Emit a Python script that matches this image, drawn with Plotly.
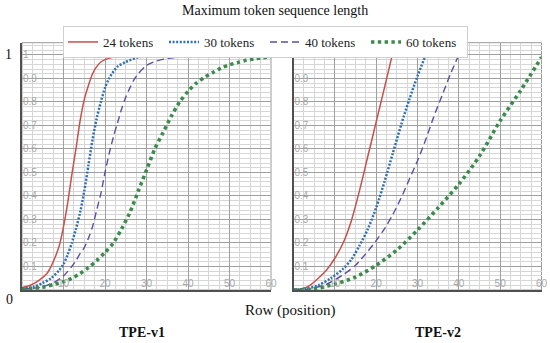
import plotly.graph_objects as go

# ---------------- data ----------------
series_names = ["24 tokens", "30 tokens", "40 tokens", "60 tokens"]
panel_titles = ["TPE-v1", "TPE-v2"]
x_title = "Row (position)"
chart_title = "Maximum token sequence length"

x_ticks = [10, 20, 30, 40, 50, 60]
x_tick_labels = ["10", "20", "30", "40", "50", "60"]
y_ticks = [0.1, 0.2, 0.3, 0.4, 0.5, 0.6, 0.7, 0.8, 0.9, 1.0]
y_tick_labels = ["0.1", "0.2", "0.3", "0.4", "0.5", "0.6", "0.7", "0.8", "0.9", "1"]

# TPE-v1
v1_x_24 = [0, 2, 4, 6, 7, 8, 9, 10, 11, 12, 13, 14, 15, 16, 17, 18, 19, 20, 22, 25, 30, 40, 50, 60]
v1_y_24 = [0.01, 0.02, 0.04, 0.07, 0.1, 0.14, 0.19, 0.27, 0.37, 0.49, 0.6, 0.72, 0.81, 0.87, 0.92,
           0.95, 0.97, 0.98, 0.99, 0.997, 1, 1, 1, 1]
v1_x_30 = [0, 3, 5, 7, 9, 10, 11, 12, 13, 14, 15, 16, 17, 18, 19, 20, 21, 23, 25, 28, 32, 40, 50, 60]
v1_y_30 = [0.005, 0.015, 0.03, 0.05, 0.085, 0.11, 0.15, 0.2, 0.26, 0.33, 0.42, 0.53, 0.64, 0.73,
           0.8, 0.86, 0.9, 0.95, 0.97, 0.99, 0.997, 1, 1, 1]
v1_x_40 = [0, 4, 6, 8, 10, 12, 13, 14, 15, 16, 17, 18, 19, 20, 21, 22, 23, 24, 25, 26, 27, 28, 30,
           32, 35, 40, 45, 50, 60]
v1_y_40 = [0.003, 0.01, 0.02, 0.035, 0.06, 0.1, 0.125, 0.155, 0.18, 0.22, 0.27, 0.34, 0.41, 0.5,
           0.58, 0.65, 0.71, 0.77, 0.82, 0.86, 0.895, 0.92, 0.955, 0.972, 0.985, 0.994, 0.998, 1, 1]
v1_x_60 = [0, 5, 8, 10, 12, 14, 16, 18, 20, 22, 24, 26, 28, 30, 32, 34, 36, 38, 40, 42, 44, 46,
           48, 50, 52, 54, 56, 58, 60]
v1_y_60 = [0.003, 0.012, 0.025, 0.035, 0.05, 0.07, 0.095, 0.125, 0.16, 0.2, 0.26, 0.33, 0.42,
           0.51, 0.6, 0.67, 0.74, 0.8, 0.845, 0.88, 0.905, 0.925, 0.945, 0.958, 0.968, 0.977,
           0.983, 0.988, 0.992]

# TPE-v2
v2_x_24 = [0, 2, 4, 6, 8, 10, 12, 14, 16, 18, 20, 22, 23.9]
v2_y_24 = [0, 0.005, 0.02, 0.05, 0.085, 0.135, 0.2, 0.295, 0.425, 0.57, 0.715, 0.86, 1.0]
v2_x_30 = [0, 3, 6, 9, 12, 14, 16, 18, 20, 22, 24, 26, 28, 30, 32]
v2_y_30 = [0, 0.005, 0.02, 0.05, 0.09, 0.13, 0.19, 0.26, 0.35, 0.46, 0.58, 0.7, 0.81, 0.91, 1.0]
v2_x_40 = [0, 4, 8, 12, 15, 18, 20, 22, 24, 26, 28, 30, 32, 34, 36, 38, 40]
v2_y_40 = [0, 0.005, 0.025, 0.065, 0.105, 0.165, 0.21, 0.26, 0.32, 0.39, 0.47, 0.55, 0.64, 0.74,
           0.83, 0.92, 1.0]
v2_x_60 = [0, 5, 10, 15, 20, 25, 30, 35, 40, 45, 50, 55, 60]
v2_y_60 = [0, 0.005, 0.025, 0.055, 0.105, 0.17, 0.255, 0.35, 0.45, 0.57, 0.72, 0.85, 0.99]

# ---------------- styles ----------------
colors = ["#c8504b", "#2f6fb5", "#5b4ea8", "#3b8b4c"]
widths = [1.5, 2.5, 1.4, 3.6]
dashes = ["solid", "2px,1.6px", "7px,4px", "3.4px,3.4px"]

panels = [
    ([v1_x_24, v1_x_30, v1_x_40, v1_x_60], [v1_y_24, v1_y_30, v1_y_40, v1_y_60], "x", "y"),
    ([v2_x_24, v2_x_30, v2_x_40, v2_x_60], [v2_y_24, v2_y_30, v2_y_40, v2_y_60], "x2", "y2"),
]

W, H = 550, 343
fig = go.Figure()
for p, (xs, ys, xa, ya) in enumerate(panels):
    for i, name in enumerate(series_names):
        fig.add_trace(go.Scatter(
            x=xs[i], y=ys[i], mode="lines", name=name, xaxis=xa, yaxis=ya,
            showlegend=(p == 0), legendgroup=name,
            line=dict(color=colors[i], width=widths[i], dash=dashes[i],
                      shape="spline", smoothing=0.8),
            cliponaxis=True,
        ))

tickfont = dict(size=10, color="#a8a8a8", family="Liberation Sans")
major_grid = "#a0a0a0"
minor_grid = "#d6d6d6"
axis_line = "#505050"

def xaxis(domain, anchor):
    return dict(domain=domain, anchor=anchor, range=[0, 60], tickvals=x_ticks,
                ticktext=x_tick_labels, ticklabelposition="inside", ticklabeloverflow="allow",
                ticks="", tickfont=tickfont, showgrid=True, gridcolor=major_grid, gridwidth=1,
                minor=dict(tick0=0, dtick=2.5, showgrid=True, gridcolor=minor_grid, gridwidth=1),
                showline=True, linecolor=axis_line, linewidth=2, zeroline=False, automargin=False)

def yaxis(domain, anchor):
    return dict(domain=domain, anchor=anchor, range=[0, 1.052], tickvals=y_ticks,
                ticktext=y_tick_labels, ticklabelposition="inside", ticklabeloverflow="allow",
                ticks="", tickfont=tickfont, showgrid=True, gridcolor=major_grid, gridwidth=1,
                minor=dict(tick0=0, dtick=0.02, showgrid=True, gridcolor=minor_grid, gridwidth=1),
                showline=True, linecolor=axis_line, linewidth=2, zeroline=False, automargin=False)

ydom = [1 - 290 / H, 1 - 42.7 / H]
xdom1 = [22 / W, 271 / W]
xdom2 = [293.5 / W, 541.5 / W]

serif = "Liberation Serif"

def note(text, px, py, size, bold=False):
    return dict(text=("<b>%s</b>" % text) if bold else text, x=px / W, y=1 - py / H,
                xref="paper", yref="paper", xanchor="center", yanchor="middle",
                showarrow=False, font=dict(family=serif, size=size, color="#111"))

annotations = [
    note(chart_title, 275, 11, 14),
    note(x_title, 290, 310, 15),
    note(panel_titles[0], 142, 332, 14, bold=True),
    note(panel_titles[1], 438, 332, 14, bold=True),
    note(y_tick_labels[-1], 8.5, 55, 14),
    note("0", 9, 299, 14),
]

shapes = [
    dict(type="rect", xref="x domain", yref="y domain", x0=0, x1=1, y0=0, y1=1,
         line=dict(color="#9a9a9a", width=1), layer="below"),
    dict(type="rect", xref="x2 domain", yref="y2 domain", x0=0, x1=1, y0=0, y1=1,
         line=dict(color="#9a9a9a", width=1), layer="below"),
]

fig.update_layout(
    width=W, height=H, margin=dict(l=0, r=0, t=0, b=0, pad=0, autoexpand=False),
    paper_bgcolor="white", plot_bgcolor="white",
    xaxis=xaxis(xdom1, "y"), yaxis=yaxis(ydom, "x"),
    xaxis2=xaxis(xdom2, "y2"), yaxis2=yaxis(ydom, "x2"),
    annotations=annotations, shapes=shapes,
    legend=dict(orientation="h", x=63 / W, y=1 - 26 / H, xanchor="left", yanchor="top",
                bgcolor="white", bordercolor="#cfcfcf", borderwidth=1,
                font=dict(family=serif, size=13, color="#222"),
                entrywidth=56, entrywidthmode="pixels", tracegroupgap=0),
    showlegend=True,
)

fig.write_html("out.html", config={"displayModeBar": False},
               post_script="document.body.style.margin='0';")
